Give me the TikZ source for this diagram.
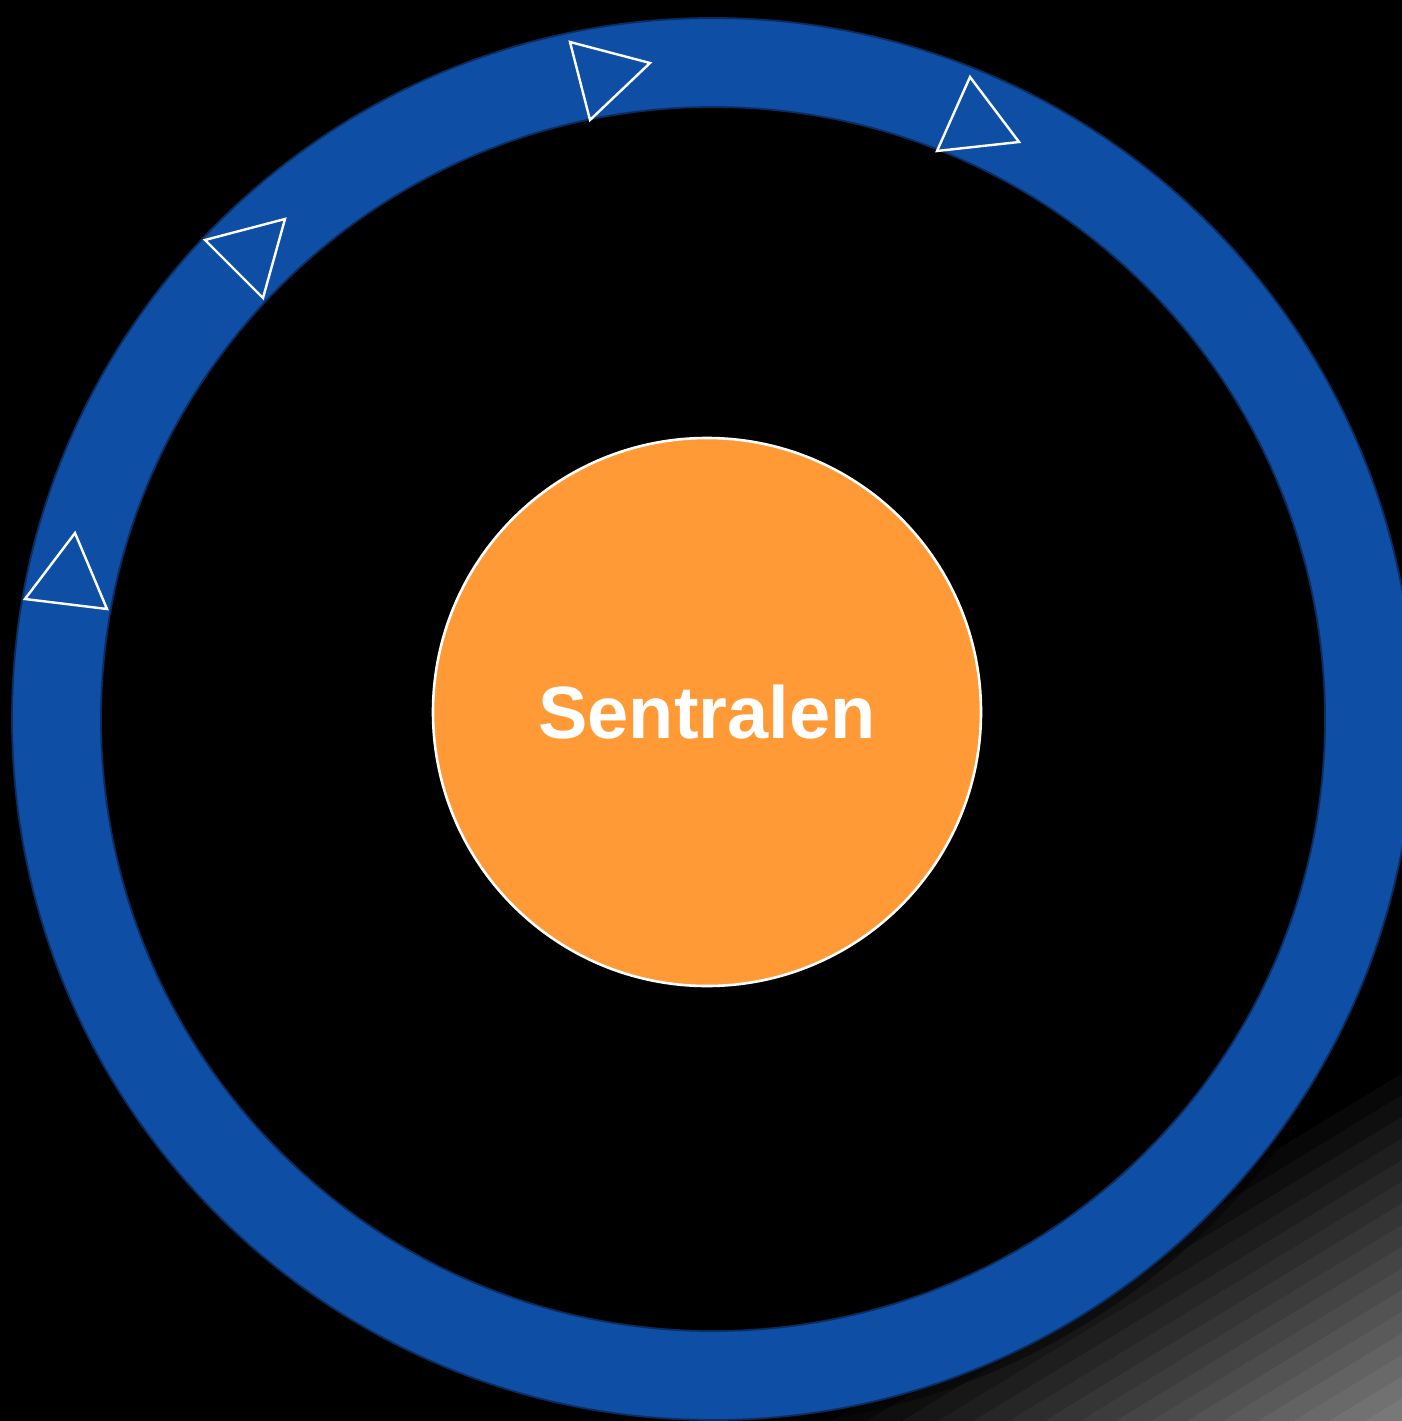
\documentclass[tikz,border=0pt]{standalone}
\usepackage{fontspec}
\setmainfont{Liberation Sans}
\definecolor{ringblue}{HTML}{0E4FA5}
\definecolor{ringedge}{HTML}{0A2C5E}
\definecolor{coreorange}{HTML}{FF9A37}
\tikzset{
  tri/.style={draw=white, line width=2.4pt, line join=miter},
  core/.style={circle, fill=coreorange, draw=white, line width=2.6pt, minimum size=548pt, inner sep=0pt,
    text=white, font=\bfseries\fontsize{74}{80}\selectfont},
}
\begin{document}
\begin{tikzpicture}[x=1pt,y=-1pt]
\fill[black] (0,0) rectangle (1402,1421);
\useasboundingbox (0,0) rectangle (1402,1421);
\clip (0,0) rectangle (1402,1421);
% corner gradient bands
\foreach \i in {0,...,15}{
  \pgfmathsetmacro\s{297-\i*18.5}
  \pgfmathtruncatemacro\v{8+\i*7.5}
  \definecolor{bandc}{RGB}{\v,\v,\v}
  \fill[bandc] ({1402-\s*0.52-1500*0.854},{1421-\s*0.854+1500*0.52})
    -- ({1402-\s*0.52+1500*0.854},{1421-\s*0.854-1500*0.52})
    -- ({1402-\s*0.52+1500*0.854+1500*0.52},{1421-\s*0.854-1500*0.52+1500*0.854})
    -- ({1402-\s*0.52-1500*0.854+1500*0.52},{1421-\s*0.854+1500*0.52+1500*0.854}) -- cycle;
}
% shadow of ring
\fill[black, opacity=0.4, even odd rule] (717,725) circle[radius=703pt] (717,725) circle[radius=606pt];
% ring
\fill[ringblue, even odd rule] (713,719) circle[radius=701pt] (713,719) circle[radius=612pt];
\draw[ringedge, line width=1.8pt] (713,719) circle[radius=701pt];
\draw[ringedge, line width=1.8pt] (713,719) circle[radius=612pt];
% arrow triangles
\draw[tri] (570,42) -- (650,63) -- (590,120) -- cycle;
\draw[tri] (970,77) -- (1019,142) -- (937,151) -- cycle;
\draw[tri] (285,219) -- (263,298) -- (205,240) -- cycle;
\draw[tri] (75,533) -- (107,609) -- (25,599) -- cycle;
% centre
\node[core] (central) at (707,712) {Sentralen};
\end{tikzpicture}
\end{document}
